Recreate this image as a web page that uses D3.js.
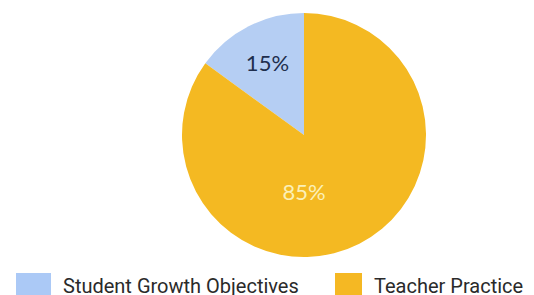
<!DOCTYPE html>
<html>
<head>
<meta charset="utf-8">
<script src="https://cdn.jsdelivr.net/npm/d3@7"></script>
<style>
  html, body { margin: 0; padding: 0; background: #fff; }
  svg { display: block; }
</style>
</head>
<body>
<svg id="chart" width="534" height="295"></svg>
<script>
// Data
const categories = ['Student Growth Objectives', 'Teacher Practice'];
const values = [15, 85];
const labels = ['15%', '85%'];
const colors = ['#b5cef3', '#f4b922'];
const legendColors = ['#abc9f6', '#f5b823'];

const width = 534, height = 295;
const cx = 304, cy = 135, radius = 122;

const svg = d3.select('#chart');

const pie = d3.pie()
    .sort(null)
    .value(d => d)
    .startAngle(-2 * Math.PI * values[0] / d3.sum(values))
    .endAngle(2 * Math.PI - 2 * Math.PI * values[0] / d3.sum(values));

const arcs = pie(values);
const arc = d3.arc().innerRadius(0).outerRadius(radius);

const g = svg.append('g').attr('transform', `translate(${cx},${cy})`);

g.selectAll('path')
    .data(arcs)
    .enter()
    .append('path')
    .attr('d', arc)
    .attr('fill', (d, i) => colors[i]);

// Etiquetas: la pequeña en su centroide, la grande abajo del centro
const labelStyle = [
    { r: 0.66, angle: null, fill: '#1e2e4d' },
    { r: 0.47, angle: Math.PI, fill: '#fbf0b8' }
];

g.selectAll('text.lbl')
    .data(arcs)
    .enter()
    .append('text')
    .attr('class', 'lbl')
    .attr('transform', (d, i) => {
        const s = labelStyle[i];
        const a = s.angle === null ? (d.startAngle + d.endAngle) / 2 : s.angle;
        const rr = radius * s.r;
        return `translate(${Math.sin(a) * rr},${-Math.cos(a) * rr})`;
    })
    .attr('text-anchor', 'middle')
    .attr('dy', '0.35em')
    .style('font-family', 'Lato, "Open Sans", sans-serif')
    .style('font-size', '22px')
    .style('fill', (d, i) => labelStyle[i].fill)
    .text((d, i) => labels[i]);

// Leyenda
const legendX = [16, 335];
const legendW = [35, 27];
const legend = svg.append('g');

const item = legend.selectAll('g')
    .data(categories)
    .enter()
    .append('g')
    .attr('transform', (d, i) => `translate(${legendX[i]},273)`);

item.append('rect')
    .attr('width', (d, i) => legendW[i])
    .attr('height', 24)
    .attr('fill', (d, i) => legendColors[i]);

item.append('text')
    .attr('x', (d, i) => legendW[i] + 12)
    .attr('y', 20)
    .style('font-family', 'Roboto, "Liberation Sans", sans-serif')
    .style('font-size', '20px')
    .style('fill', '#2a2a2a')
    .text(d => d);
</script>
</body>
</html>
